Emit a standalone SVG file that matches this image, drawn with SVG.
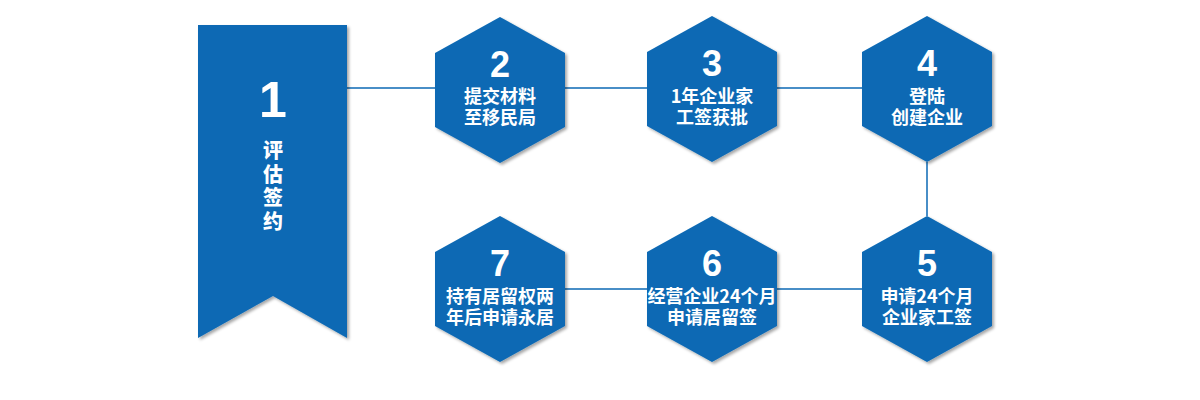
<svg xmlns="http://www.w3.org/2000/svg" width="1200" height="400" viewBox="0 0 1200 400">
  <defs>
    <filter id="sh" x="-10%" y="-10%" width="125%" height="125%">
      <feDropShadow dx="2" dy="2" stdDeviation="1.5" flood-color="#000" flood-opacity="0.35"/>
    </filter>
    <polygon id="hex" points="0,-73 65,-37 65,37 0,73 -65,37 -65,-37"/>
    <style>
      .shape { fill: #0B69B4; filter: url(#sh); }
      .num { font-family: "Liberation Sans", "Noto Sans CJK SC", sans-serif; font-weight: bold; font-size: 36px; fill: #fff; text-anchor: middle; }
      .lbl { font-family: "Noto Sans CJK SC", sans-serif; font-weight: bold; font-size: 18px; fill: #fff; text-anchor: middle; }
      .vt { font-family: "Noto Sans CJK SC", sans-serif; font-weight: 900; font-size: 20px; fill: #fff; text-anchor: middle; }
      .conn { stroke: #0B69B4; stroke-width: 1.5; fill: none; }
    </style>
  </defs>
  <rect width="1200" height="400" fill="#fff"/>
  <g id="connectors">
    <line class="conn" x1="347" y1="88" x2="862" y2="88"/>
    <line class="conn" x1="927" y1="162" x2="927" y2="216"/>
    <line class="conn" x1="565" y1="289" x2="862" y2="289"/>
  </g>
  <g id="node1">
    <polygon class="shape" points="198,25 347,25 347,338 273,296 198,338"/>
    <text class="num" x="273" y="117" style="font-size:50px">1</text>
    <text class="vt" x="273" y="158">评</text>
    <text class="vt" x="273" y="181.5">估</text>
    <text class="vt" x="273" y="205">签</text>
    <text class="vt" x="273" y="228.5">约</text>
  </g>
  <g id="node2">
    <use href="#hex" x="500" y="90" class="shape"/>
    <text class="num" x="500" y="77">2</text>
    <text class="lbl" x="500" y="103">提交材料</text>
    <text class="lbl" x="500" y="124">至移民局</text>
  </g>
  <g id="node3">
    <use href="#hex" x="712" y="89" class="shape"/>
    <text class="num" x="712" y="76">3</text>
    <text class="lbl" x="712" y="103">1年企业家</text>
    <text class="lbl" x="712" y="124">工签获批</text>
  </g>
  <g id="node4">
    <use href="#hex" x="927" y="89" class="shape"/>
    <text class="num" x="927" y="76">4</text>
    <text class="lbl" x="927" y="103">登陆</text>
    <text class="lbl" x="927" y="124">创建企业</text>
  </g>
  <g id="node5">
    <use href="#hex" x="927" y="289" class="shape"/>
    <text class="num" x="927" y="276">5</text>
    <text class="lbl" x="927" y="303">申请24个月</text>
    <text class="lbl" x="927" y="324">企业家工签</text>
  </g>
  <g id="node6">
    <use href="#hex" x="712" y="289" class="shape"/>
    <text class="num" x="712" y="276">6</text>
    <text class="lbl" x="712" y="303">经营企业24个月</text>
    <text class="lbl" x="712" y="324">申请居留签</text>
  </g>
  <g id="node7">
    <use href="#hex" x="500" y="289" class="shape"/>
    <text class="num" x="500" y="276">7</text>
    <text class="lbl" x="500" y="303">持有居留权两</text>
    <text class="lbl" x="500" y="324">年后申请永居</text>
  </g>
</svg>
